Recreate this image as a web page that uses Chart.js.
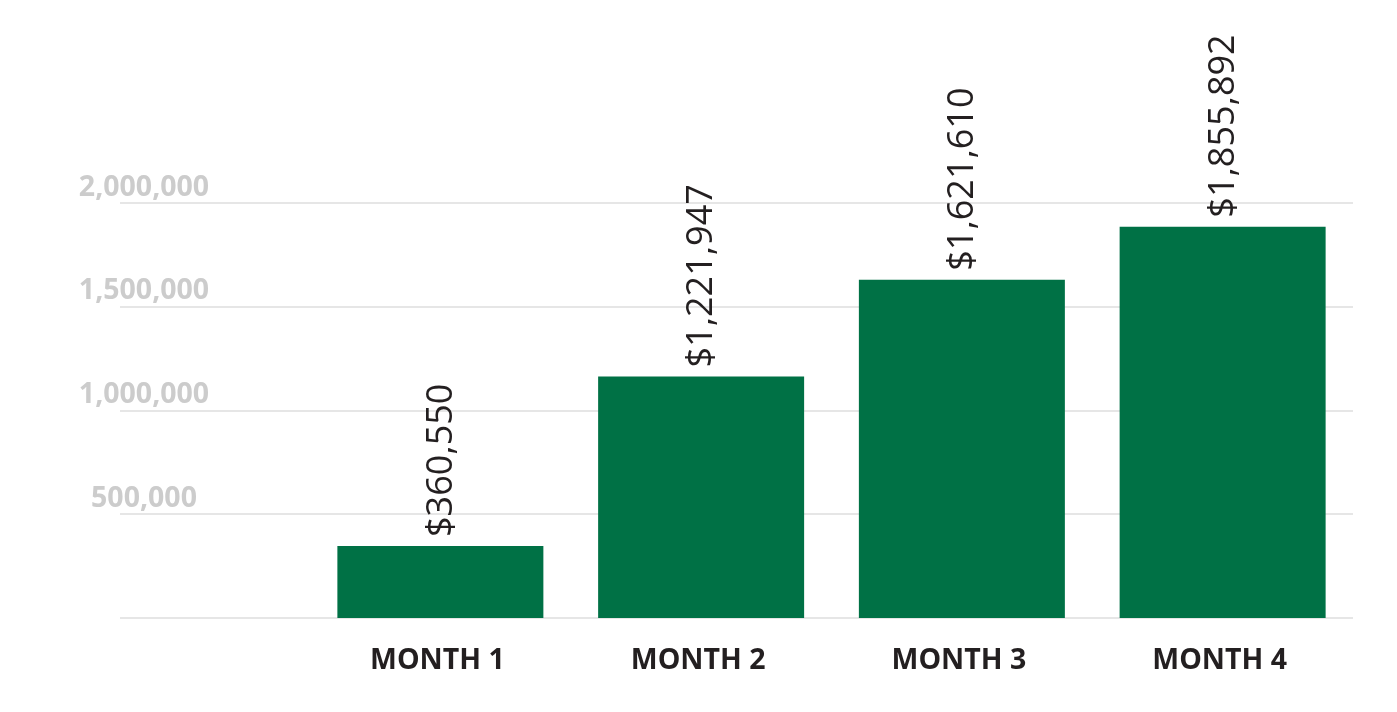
<!DOCTYPE html>
<html>
<head>
<meta charset="utf-8">
<script src="https://cdn.jsdelivr.net/npm/chart.js@4"></script>
<style>
  html, body { margin: 0; padding: 0; background: #ffffff; }
  #wrap { width: 1397px; height: 712px; position: relative; }
</style>
</head>
<body>
<div id="wrap"><canvas id="c"></canvas></div>
<script>
const categories = ['MONTH 1', 'MONTH 2', 'MONTH 3', 'MONTH 4'];
const barValues = [347000, 1164000, 1630000, 1886000];
const valueLabels = ['$360,550', '$1,221,947', '$1,621,610', '$1,855,892'];
const yTicks = [500000, 1000000, 1500000, 2000000];
const yTickLabels = ['500,000', '1,000,000', '1,500,000', '2,000,000'];

const gridPlugin = {
  id: 'customGrid',
  beforeDatasetsDraw(chart) {
    const { ctx, chartArea, scales } = chart;
    const y = scales.y;
    ctx.save();
    ctx.strokeStyle = '#e6e6e6';
    ctx.lineWidth = 2;
    [0].concat(yTicks).forEach(v => {
      const py = Math.round(y.getPixelForValue(v));
      ctx.beginPath();
      ctx.moveTo(120, py);
      ctx.lineTo(chartArea.right, py);
      ctx.stroke();
    });
    ctx.fillStyle = '#cccccc';
    ctx.font = 'bold 28.5px "Open Sans"';
    ctx.textAlign = 'center';
    ctx.textBaseline = 'alphabetic';
    yTicks.forEach((v, i) => {
      const py = y.getPixelForValue(v);
      ctx.fillText(yTickLabels[i], 144, py - 7.5);
    });
    ctx.restore();
  },
  afterDatasetsDraw(chart) {
    const { ctx } = chart;
    const meta = chart.getDatasetMeta(0);
    ctx.save();
    ctx.fillStyle = '#231f20';
    ctx.font = '36px "Open Sans"';
    ctx.textAlign = 'left';
    ctx.textBaseline = 'middle';
    meta.data.forEach((bar, i) => {
      ctx.save();
      ctx.translate(bar.x + 1, bar.y - 9);
      ctx.rotate(-Math.PI / 2);
      ctx.fillText(valueLabels[i], 0, 0);
      ctx.restore();
    });
    ctx.restore();
  }
};

new Chart(document.getElementById('c'), {
  type: 'bar',
  data: {
    labels: categories,
    datasets: [{
      data: barValues,
      backgroundColor: '#007145',
      borderWidth: 0,
      categoryPercentage: 1,
      barPercentage: 0.79
    }]
  },
  options: {
    responsive: true,
    maintainAspectRatio: false,
    animation: false,
    events: [],
    layout: { padding: { left: 310, right: 44, top: 203, bottom: 0 } },
    plugins: { legend: { display: false }, tooltip: { enabled: false } },
    scales: {
      x: {
        grid: { display: false },
        border: { display: false },
        ticks: {
          color: '#231f20',
          font: { family: 'Open Sans', weight: 'bold', size: 28.5 },
          padding: 18,
          labelOffset: -3,
          maxRotation: 0
        },
        afterFit(scale) { scale.height = 94; }
      },
      y: {
        display: false,
        min: 0,
        max: 2000000,
        ticks: { stepSize: 500000 }
      }
    }
  },
  plugins: [gridPlugin]
});
</script>
</body>
</html>
